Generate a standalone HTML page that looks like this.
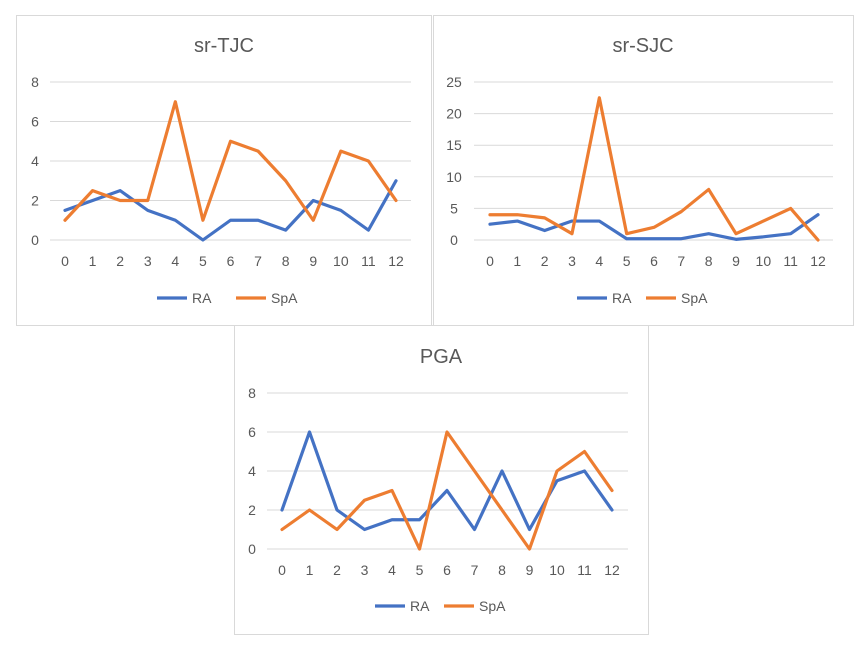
<!DOCTYPE html>
<html><head><meta charset="utf-8">
<style>
body{margin:0;background:#fff;width:867px;height:647px;overflow:hidden;font-family:"Liberation Sans",sans-serif}
svg{position:absolute;left:0;top:0}
</style></head>
<body>
<svg id="svg" width="867" height="647"></svg>
<script>
const xCats=[0,1,2,3,4,5,6,7,8,9,10,11,12];
const tjcRA=[1.5,2,2.5,1.5,1,0,1,1,0.5,2,1.5,0.5,3];
const tjcSpA=[1,2.5,2,2,7,1,5,4.5,3,1,4.5,4,2];
const tjcTicks=[0,2,4,6,8];
const sjcRA=[2.5,3,1.5,3,3,0.2,0.2,0.2,1,0.1,0.5,1,4];
const sjcSpA=[4,4,3.5,1,22.5,1,2,4.5,8,1,3,5,0];
const sjcTicks=[0,5,10,15,20,25];
const pgaRA=[2,6,2,1,1.5,1.5,3,1,4,1,3.5,4,2];
const pgaSpA=[1,2,1,2.5,3,0,6,4,2,0,4,5,3];
const pgaTicks=[0,2,4,6,8];

const NS="http://www.w3.org/2000/svg";
const svg=document.getElementById('svg');
function mk(tag,attrs,parent){const e=document.createElementNS(NS,tag);for(const k in attrs)e.setAttribute(k,attrs[k]);(parent||svg).appendChild(e);return e;}

function chart(cfg){
  const g=mk('g',{});
  
  
  const fr=mk('rect',{x:cfg.box[0]+0.5,y:cfg.box[1]+0.5,width:cfg.box[2],height:cfg.box[3],fill:'#fff',stroke:'#d9d9d9'},g);
  
  
  const t=mk('text',{x:cfg.titleX,y:cfg.titleY,'text-anchor':'middle','font-size':20,fill:'#595959'},g);
  t.textContent=cfg.title;
  
  
  const max=cfg.ticks[cfg.ticks.length-1];
  const yS=v=>cfg.y0-(cfg.y0-cfg.yTop)*v/max;
  const xS=i=>cfg.x0+(cfg.x12-cfg.x0)*i/(xCats.length-1);
  cfg.ticks.forEach(v=>{
    const l=mk('line',{x1:cfg.gl[0],x2:cfg.gl[1],y1:yS(v),y2:yS(v),stroke:'#d9d9d9','stroke-width':1},g);
    
    
    const tx=mk('text',{x:cfg.yLabX,y:yS(v)+5,'text-anchor':'middle','font-size':14,fill:'#595959'},g);
    tx.textContent=v;
    
    
  });
  xCats.forEach((c,i)=>{
    const tx=mk('text',{x:xS(i),y:cfg.y0+26,'text-anchor':'middle','font-size':14,fill:'#595959'},g);
    tx.textContent=c;
    
    
  });
  [[cfg.ra,'#4472C4','ra-line'],[cfg.spa,'#ED7D31','spa-line']].forEach(([d,col,nm])=>{
    const p=mk('polyline',{points:d.map((v,i)=>xS(i)+','+yS(v)).join(' '),fill:'none',stroke:col,'stroke-width':3.2,'stroke-linejoin':'round','stroke-linecap':'round'},g);
    
    
  });
  const L=cfg.leg;
  [[L[0],'#4472C4','RA'],[L[1],'#ED7D31','SpA']].forEach(([x,col,lab])=>{
    const l=mk('line',{x1:x,x2:x+30,y1:L[2],y2:L[2],stroke:col,'stroke-width':3.2},g);
    
    
    const tx=mk('text',{x:x+35,y:L[2]+5,'font-size':14,fill:'#595959'},g);
    tx.textContent=lab;
    
    
  });
}
chart({name:'sr-tjc-chart',box:[16,15,415,310],title:'sr-TJC',titleX:224,titleY:52,ticks:tjcTicks,y0:240,yTop:82,gl:[50,411],yLabX:35,x0:65,x12:396,ra:tjcRA,spa:tjcSpA,leg:[157,236,298]});
chart({name:'sr-sjc-chart',box:[433,15,420,310],title:'sr-SJC',titleX:643,titleY:52,ticks:sjcTicks,y0:240,yTop:82,gl:[474,833],yLabX:454,x0:490,x12:818,ra:sjcRA,spa:sjcSpA,leg:[577,646,298]});
chart({name:'pga-chart',box:[234,325,414,309],title:'PGA',titleX:441,titleY:363,ticks:pgaTicks,y0:549,yTop:393,gl:[267,628],yLabX:252,x0:282,x12:612,ra:pgaRA,spa:pgaSpA,leg:[375,444,606]});
</script>
</body></html>
